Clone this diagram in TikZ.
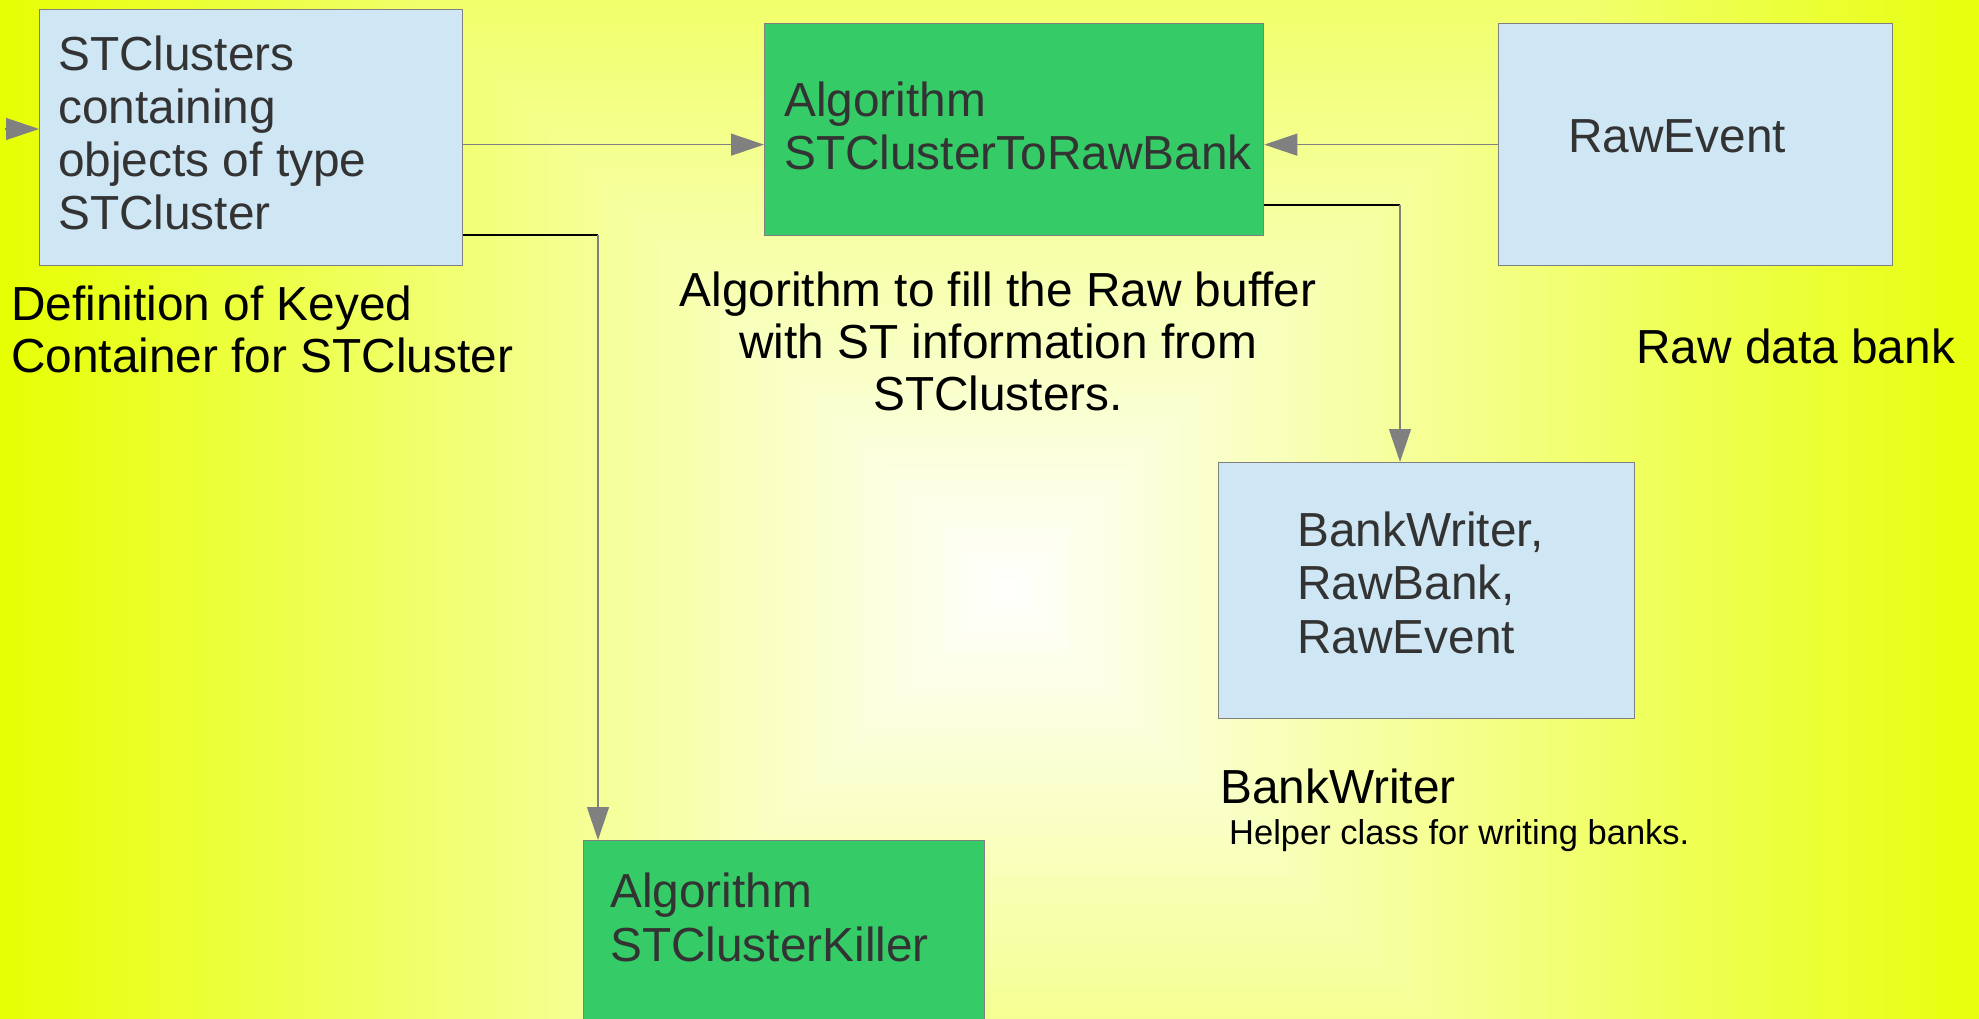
\documentclass[tikz,border=0pt]{standalone}
\usepackage{fontspec}
\setmainfont{Liberation Sans}
\usetikzlibrary{arrows.meta}
\definecolor{bgyellow}{RGB}{230,255,0}
\definecolor{boxblue}{RGB}{207,231,245}
\definecolor{algogreen}{RGB}{53,203,102}
\definecolor{boxline}{RGB}{128,128,128}
\definecolor{boxtext}{RGB}{51,51,51}
\definecolor{flowgray}{RGB}{128,128,128}
\begin{document}
\begin{tikzpicture}[x=1pt,y=-1pt,
  box/.style={draw=boxline, line width=1.3pt, anchor=north west, inner sep=0pt},
  bluebox/.style={box, fill=boxblue},
  greenbox/.style={box, fill=algogreen},
  % multi-line texts are placed by the baseline of their last line
  intext/.style={anchor=base west, align=left, inner sep=0pt, text=boxtext,
    font=\fontsize{47.8}{53.3}\selectfont},
  note/.style={anchor=base west, align=left, inner sep=0pt, text=black,
    font=\fontsize{47.8}{52}\selectfont},
  smallnote/.style={anchor=base west, inner sep=0pt, text=black,
    font=\fontsize{34.5}{40}\selectfont},
  flow/.style={draw=flowgray, line width=1.3pt, -{Triangle[length=33pt,width=22pt]}},
  link/.style={draw=black, line width=1.3pt},
]
\useasboundingbox (0,0) rectangle (1979,1019);

% rectangular gradient background: yellow rim fading to a white centre
\begin{scope}
  \clip (0,0) rectangle (1979,1019);
  \foreach \i in {100,99,...,1}{
    \pgfmathsetmacro{\h}{\i*10.2}
    \fill[bgyellow!\i!white] (1007-\h,590-\h) rectangle (1007+\h,590+\h);
  }
\end{scope}

% boxes
\node[bluebox, minimum width=423, minimum height=256] (clusters) at (39,9) {};
\node[greenbox, minimum width=499, minimum height=212] (tobank) at (764,23) {};
\node[bluebox, minimum width=394, minimum height=242] (rawevent) at (1498,23) {};
\node[bluebox, minimum width=416, minimum height=256] (writer) at (1218,462) {};
\node[greenbox, minimum width=401, minimum height=220] (killer) at (583,840) {};

% texts inside the boxes
\node[intext] (clusterstext) at (58,230) {STClusters\\containing\\objects of type\\STCluster};
\node[intext] (tobanktext) at (784,170) {Algorithm\\STClusterToRawBank};
\node[intext] (raweventtext) at (1568,153) {RawEvent};
\node[intext] (writertext) at (1297,653) {BankWriter,\\RawBank,\\RawEvent};
\node[intext] (killertext) at (610,961) {Algorithm\\STClusterKiller};

% descriptions
\node[note] (keyed) at (11,372) {Definition of Keyed\\Container for STCluster};
\node[note, anchor=base, align=center] (fill) at (998,410) {Algorithm to fill the Raw buffer\\with ST information from\\STClusters.};
\node[note] (rawbank) at (1636,363) {Raw data bank};
\node[note] (writerlabel) at (1220,803) {BankWriter};
\node[smallnote] (helper) at (1229,844) {Helper class for writing banks.};

% connectors
\coordinate (input) at (5,129);
\coordinate (bendA) at (1400,205);
\coordinate (bendB) at (598,235);
\draw[flow] (input) -- (input -| clusters.west);
\draw[flow] ([yshift=-7pt]clusters.east) -- ([yshift=-15pt]tobank.west);
\draw[flow] (rawevent.west) -- (rawevent.west -| tobank.east);
\draw[link] (tobank.east |- bendA) -- (bendA);
\draw[flow] (bendA) -- (bendA |- writer.north);
\draw[link] (clusters.east |- bendB) -- (bendB);
\draw[flow] (bendB) -- (bendB |- killer.north);
\end{tikzpicture}
\end{document}
